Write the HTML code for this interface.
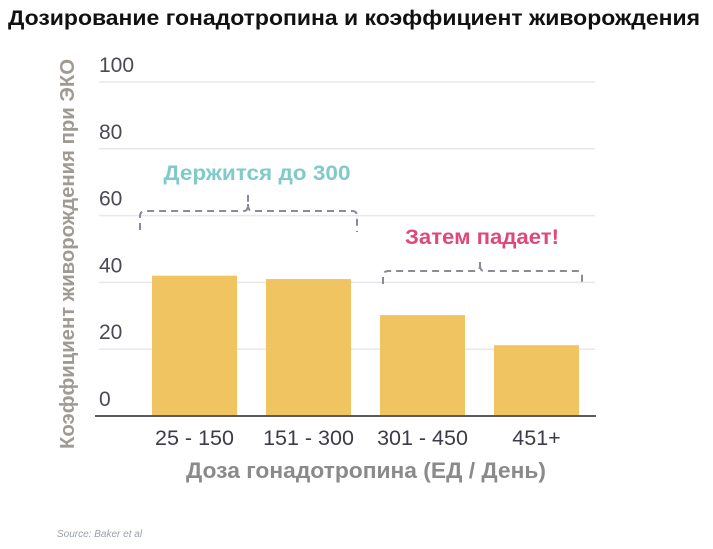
<!DOCTYPE html>
<html><head><meta charset="utf-8"><style>
body{margin:0;background:#fff;width:713px;height:544px;overflow:hidden;font-family:"Liberation Sans","Noto Sans CJK SC",sans-serif}
</style></head><body>
<svg id="c" width="713" height="544" font-family="Liberation Sans, Noto Sans CJK SC, sans-serif">
<text x="8" y="25" font-size="21" font-weight="bold" fill="#111" textLength="692" lengthAdjust="spacingAndGlyphs">Дозирование гонадотропина и коэффициент живорождения</text>
<g id="grid"></g><g id="bars"></g><g id="xt"></g>
<line x1="95" x2="596" y1="416" y2="416" stroke="#5a5a66" stroke-width="2"/>
<text transform="translate(74,254) rotate(-90)" text-anchor="middle" font-size="20.5" font-weight="bold" fill="#a09a94" textLength="390" lengthAdjust="spacingAndGlyphs">Коэффициент живорождения при ЭКО</text>
<text x="366" y="478" text-anchor="middle" font-size="22" font-weight="bold" fill="#8a8a8a" textLength="360" lengthAdjust="spacingAndGlyphs">Доза гонадотропина (ЕД / День)</text>
<g fill="none" stroke="#8a8a9a" stroke-width="2" stroke-dasharray="7,5">
<path d="M140 230 V216 Q140 211 146 211 H244 Q248 211 248 204 V192 M248 204 Q248 211 252 211 H352 Q357 211 357 216 V232"/>
<path d="M383 284 V276 Q383 271 389 271 H476 Q480 271 480 265 V259 M480 265 Q480 271 484 271 H577 Q582 271 582 276 V285"/>
</g>
<text x="257" y="180" text-anchor="middle" font-size="21" font-weight="bold" fill="#80cac8" textLength="187" lengthAdjust="spacingAndGlyphs">Держится до 300</text>
<text x="482" y="244" text-anchor="middle" font-size="21" font-weight="bold" fill="#e0487a" textLength="154" lengthAdjust="spacingAndGlyphs">Затем падает!</text>
<text x="57" y="537" font-size="10" font-style="italic" fill="#9aa0aa">Source: Baker et al</text>
</svg>
<script>
const categories=["25 - 150","151 - 300","301 - 450","451+"];
const values=[42,41,30.2,21.2];
const yTicks=[0,20,40,60,80,100];
const ns="http://www.w3.org/2000/svg";
const y=v=>416-v*3.34;
const x=i=>152+i*114;
function mk(t,a,p){const e=document.createElementNS(ns,t);for(const k in a)e.setAttribute(k,a[k]);p.appendChild(e);return e;}
const g=document.getElementById('grid'),b=document.getElementById('bars'),xt=document.getElementById('xt');
yTicks.forEach(v=>{
 if(v>0){const l=mk('line',{x1:99,x2:595,y1:y(v),y2:y(v),stroke:'#e8e8ec','stroke-width':1.5},g);
 
 }
 const t=mk('text',{x:99,y:y(v)-10,'font-size':21,fill:'#4a4a55'},g);t.textContent=v;
 
 
});
values.forEach((v,i)=>{
 const r=mk('rect',{x:x(i),y:y(v),width:85,height:416-y(v),fill:'#efc461'},b);
 
 
 const t=mk('text',{x:x(i)+42.5,y:445,'text-anchor':'middle','font-size':21.5,fill:'#3c3c48'},xt);t.textContent=categories[i];
 
 
});
</script>
</body></html>
